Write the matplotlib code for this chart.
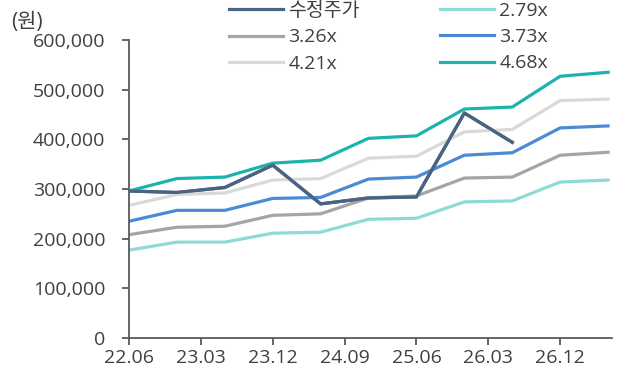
import matplotlib
matplotlib.use("Agg")
import matplotlib.pyplot as plt
from matplotlib.ticker import FuncFormatter

plt.rcParams['font.family'] = ['Open Sans', 'Noto Sans CJK KR', 'DejaVu Sans']

# semiannual points, x in quarters from 22.06
x_pos = [0, 2, 4, 6, 8, 10, 12, 14, 16, 18, 20]
tick_pos = [0, 3, 6, 9, 12, 15, 18]
tick_labels = ["22.06", "23.03", "23.12", "24.09", "25.06", "26.03", "26.12"]

price = [296000, 293000, 303000, 348000, 270000, 282000, 284000, 453000, 394000]
band_279 = [177000, 193000, 193000, 211000, 213000, 239000, 241000, 274000, 276000, 314000, 318000]
band_326 = [208000, 223000, 225000, 247000, 250000, 282000, 286000, 322000, 324000, 368000, 374000]
band_373 = [235000, 257000, 257000, 281000, 283000, 320000, 324000, 368000, 373000, 423000, 427000]
band_421 = [267000, 289000, 292000, 318000, 321000, 362000, 366000, 415000, 420000, 478000, 481000]
band_468 = [296000, 321000, 324000, 352000, 358000, 402000, 407000, 461000, 465000, 527000, 535000]

fig = plt.figure(figsize=(6.37, 3.81), dpi=100)
ax = fig.add_axes([0.2025, 0.1129, 0.7585, 0.7821])

lw = 2.3
l1, = ax.plot(x_pos[:len(price)], price, color="#4b6382", lw=lw, label="수정주가")
l2, = ax.plot(x_pos, band_279, color="#8edbd6", lw=lw, label="2.79x")
l3, = ax.plot(x_pos, band_326, color="#a5a5a5", lw=lw, label="3.26x")
l4, = ax.plot(x_pos, band_373, color="#4a8bd3", lw=lw, label="3.73x")
l5, = ax.plot(x_pos, band_421, color="#d9d9d9", lw=lw, label="4.21x")
l6, = ax.plot(x_pos, band_468, color="#1db3ad", lw=lw, label="4.68x")
# redraw price on top
ax.plot(x_pos[:len(price)], price, color="#4b6382", lw=lw, zorder=5)

ax.set_xlim(0, 20.17)
ax.set_ylim(0, 600000)
ax.set_yticks(range(0, 600001, 100000))
ax.yaxis.set_major_formatter(FuncFormatter(lambda v, p: f"{int(v):,}"))
ax.set_xticks(tick_pos)
ax.set_xticklabels(tick_labels)

txt = "#404040"
fs = 14
for s in ["top", "right"]:
    ax.spines[s].set_visible(False)
for s in ["left", "bottom"]:
    ax.spines[s].set_color("#595959")
    ax.spines[s].set_linewidth(1.3)
ax.tick_params(axis="both", colors="#595959", labelcolor=txt, labelsize=fs, length=5, width=1.3, direction="out")
ax.tick_params(axis="y", pad=12)
ax.tick_params(axis="x", pad=3)

fig.text(0.018, 0.94, "(원)", fontsize=fs + 1, color=txt, ha="left", va="center")

kw = dict(loc="upper left", frameon=False, fontsize=fs, handlelength=2.8,
          handletextpad=0.25, labelspacing=0.42, borderaxespad=0, borderpad=0)
leg1 = fig.legend(handles=[l1, l3, l5], bbox_to_anchor=(229 / 637, 1 - 2 / 381), **kw)
leg2 = fig.legend(handles=[l2, l4, l6], bbox_to_anchor=(440 / 637, 1 - 2 / 381), **kw)
for leg in (leg1, leg2):
    for t in leg.get_texts():
        t.set_color(txt)

fig.savefig("out.png", dpi=100)
